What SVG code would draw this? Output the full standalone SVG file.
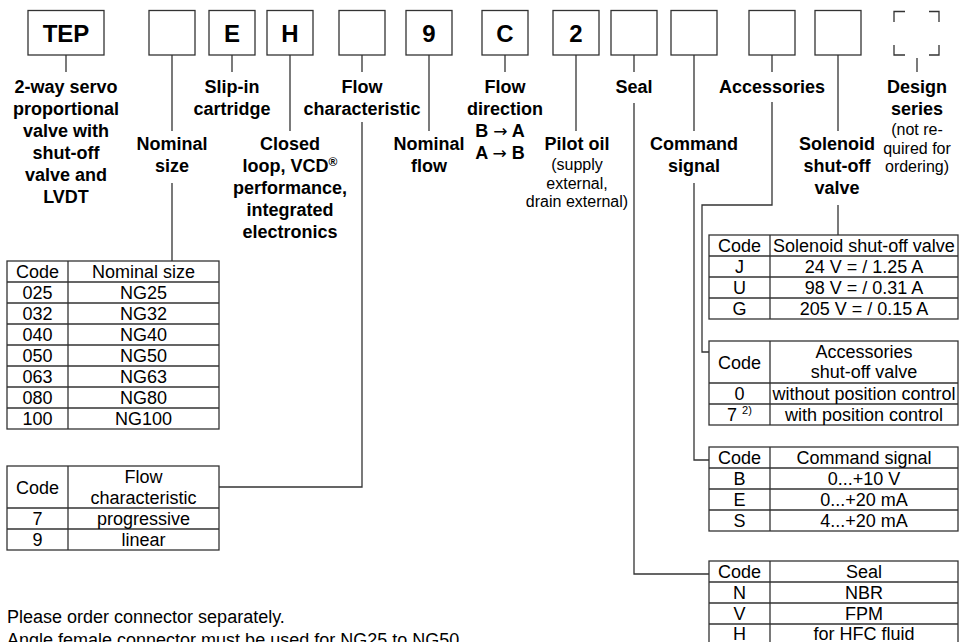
<svg xmlns="http://www.w3.org/2000/svg" width="960" height="642" viewBox="0 0 960 642">
<style>
text{font-family:"Liberation Sans",Arial,Helvetica,sans-serif;fill:#000}
.bx{font-size:24px;font-weight:bold;text-anchor:middle}
.bl{font-size:18px;font-weight:bold;text-anchor:middle}
.ar{font-family:"DejaVu Sans",sans-serif;font-weight:normal;font-size:17px}
.sm{font-size:16px;text-anchor:middle}
.t{font-size:18px;text-anchor:middle}
.nt{font-size:18px}
.box{fill:#fff;stroke:#333;stroke-width:1.3}
.tb{fill:none;stroke:#333;stroke-width:1.3}
.cn{fill:none;stroke:#333;stroke-width:1.3}
</style>
<rect width="960" height="642" fill="#fff"/>

<g id="connectors">
<path class="cn" d="M66 55V72"/>
<path class="cn" d="M172 55V131M172 183V261"/>
<path class="cn" d="M232 55V72"/>
<path class="cn" d="M290 55V131"/>
<path class="cn" d="M362 55V72M362 122V487H219"/>
<path class="cn" d="M429 55V131"/>
<path class="cn" d="M505 55V72"/>
<path class="cn" d="M576 55V131"/>
<path class="cn" d="M634 55V72M634 103V574H709"/>
<path class="cn" d="M694 55V131M694 183V460H709"/>
<path class="cn" d="M772 55V72M772 102V205H702V352H709"/>
<path class="cn" d="M838 55V131M838 205V235"/>
<path class="cn" d="M917 58V72"/>
</g>

<g id="box-tep"><rect class="box" x="28" y="10.5" width="76" height="44.5"/><text class="bx" x="66" y="41.5">TEP</text></g>
<g id="box-size"><rect class="box" x="149" y="10.5" width="46" height="44.5"/></g>
<g id="box-e"><rect class="box" x="209" y="10.5" width="46" height="44.5"/><text class="bx" x="232" y="41.5">E</text></g>
<g id="box-h"><rect class="box" x="267" y="10.5" width="46" height="44.5"/><text class="bx" x="290" y="41.5">H</text></g>
<g id="box-flowchar"><rect class="box" x="339" y="10.5" width="46" height="44.5"/></g>
<g id="box-9"><rect class="box" x="406" y="10.5" width="46" height="44.5"/><text class="bx" x="429" y="41.5">9</text></g>
<g id="box-c"><rect class="box" x="482" y="10.5" width="46" height="44.5"/><text class="bx" x="505" y="41.5">C</text></g>
<g id="box-2"><rect class="box" x="553" y="10.5" width="46" height="44.5"/><text class="bx" x="576" y="41.5">2</text></g>
<g id="box-seal"><rect class="box" x="611" y="10.5" width="46" height="44.5"/></g>
<g id="box-cmd"><rect class="box" x="671" y="10.5" width="46" height="44.5"/></g>
<g id="box-acc"><rect class="box" x="749" y="10.5" width="46" height="44.5"/></g>
<g id="box-sol"><rect class="box" x="815" y="10.5" width="46" height="44.5"/></g>
<g id="box-design"><path class="tb" d="M894 22V11.5H905M929 11.5H939V22M894 45V55H905M929 55H939V45"/></g>

<g id="label-tep">
<text class="bl" x="66" y="93">2-way servo</text>
<text class="bl" x="66" y="115">proportional</text>
<text class="bl" x="66" y="137">valve with</text>
<text class="bl" x="66" y="159">shut-off</text>
<text class="bl" x="66" y="181">valve and</text>
<text class="bl" x="66" y="203">LVDT</text>
</g>
<g id="label-size"><text class="bl" x="172" y="150">Nominal</text><text class="bl" x="172" y="172">size</text></g>
<g id="label-e"><text class="bl" x="232" y="93">Slip-in</text><text class="bl" x="232" y="115">cartridge</text></g>
<g id="label-h">
<text class="bl" x="290" y="150">Closed</text>
<text class="bl" x="290" y="172">loop, VCD<tspan font-size="12" dy="-6">®</tspan></text>
<text class="bl" x="290" y="194">performance,</text>
<text class="bl" x="290" y="216">integrated</text>
<text class="bl" x="290" y="238">electronics</text>
</g>
<g id="label-flowchar"><text class="bl" x="362" y="93">Flow</text><text class="bl" x="362" y="115">characteristic</text></g>
<g id="label-flow"><text class="bl" x="429" y="150">Nominal</text><text class="bl" x="429" y="172">flow</text></g>
<g id="label-dir">
<text class="bl" x="505" y="93">Flow</text>
<text class="bl" x="505" y="115">direction</text>
<text class="bl" x="500" y="137">B <tspan class="ar">→</tspan> A</text>
<text class="bl" x="500" y="159">A <tspan class="ar">→</tspan> B</text>
</g>
<g id="label-pilot">
<text class="bl" x="577" y="150">Pilot oil</text>
<text class="sm" x="577" y="170">(supply</text>
<text class="sm" x="577" y="188.5">external,</text>
<text class="sm" x="577" y="207">drain external)</text>
</g>
<g id="label-seal"><text class="bl" x="634" y="93">Seal</text></g>
<g id="label-cmd"><text class="bl" x="694" y="150">Command</text><text class="bl" x="694" y="172">signal</text></g>
<g id="label-acc"><text class="bl" x="772" y="93">Accessories</text></g>
<g id="label-sol"><text class="bl" x="837" y="150">Solenoid</text><text class="bl" x="837" y="172">shut-off</text><text class="bl" x="837" y="194">valve</text></g>
<g id="label-design">
<text class="bl" x="917" y="93">Design</text>
<text class="bl" x="917" y="115">series</text>
<text class="sm" x="917" y="135">(not re-</text>
<text class="sm" x="917" y="153.5">quired for</text>
<text class="sm" x="917" y="172">ordering)</text>
</g>

<g id="table-size">
<rect class="tb" x="7" y="261" width="212" height="168"/>
<path class="tb" d="M68 261V429M7 282H219M7 303H219M7 324H219M7 345H219M7 366H219M7 387H219M7 408H219"/>
<text class="t" x="37.5" y="278">Code</text><text class="t" x="143.5" y="278">Nominal size</text>
<text class="t" x="37.5" y="299">025</text><text class="t" x="143.5" y="299">NG25</text>
<text class="t" x="37.5" y="320">032</text><text class="t" x="143.5" y="320">NG32</text>
<text class="t" x="37.5" y="341">040</text><text class="t" x="143.5" y="341">NG40</text>
<text class="t" x="37.5" y="362">050</text><text class="t" x="143.5" y="362">NG50</text>
<text class="t" x="37.5" y="383">063</text><text class="t" x="143.5" y="383">NG63</text>
<text class="t" x="37.5" y="404">080</text><text class="t" x="143.5" y="404">NG80</text>
<text class="t" x="37.5" y="425">100</text><text class="t" x="143.5" y="425">NG100</text>
</g>

<g id="table-flowchar">
<rect class="tb" x="7" y="466" width="212" height="84"/>
<path class="tb" d="M68 466V550M7 508H219M7 529H219"/>
<text class="t" x="37.5" y="494">Code</text>
<text class="t" x="143.5" y="483">Flow</text><text class="t" x="143.5" y="504">characteristic</text>
<text class="t" x="37.5" y="525">7</text><text class="t" x="143.5" y="525">progressive</text>
<text class="t" x="37.5" y="546">9</text><text class="t" x="143.5" y="546">linear</text>
</g>

<g id="table-sol">
<rect class="tb" x="709" y="235" width="249" height="84"/>
<path class="tb" d="M770 235V319M709 256H958M709 277H958M709 298H958"/>
<text class="t" x="739.5" y="252">Code</text><text class="t" x="864" y="252">Solenoid shut-off valve</text>
<text class="t" x="739.5" y="273">J</text><text class="t" x="864" y="273">24 V = / 1.25 A</text>
<text class="t" x="739.5" y="294">U</text><text class="t" x="864" y="294">98 V = / 0.31 A</text>
<text class="t" x="739.5" y="315">G</text><text class="t" x="864" y="315">205 V = / 0.15 A</text>
</g>

<g id="table-acc">
<rect class="tb" x="709" y="341" width="249" height="84"/>
<path class="tb" d="M770 341V425M709 383H958M709 404H958"/>
<text class="t" x="739.5" y="368.5">Code</text>
<text class="t" x="864" y="358">Accessories</text><text class="t" x="864" y="378">shut-off valve</text>
<text class="t" x="739.5" y="400">0</text><text class="t" x="864" y="400">without position control</text>
<text class="t" x="739.5" y="421">7 <tspan font-size="11" dy="-7">2)</tspan></text><text class="t" x="864" y="421">with position control</text>
</g>

<g id="table-cmd">
<rect class="tb" x="709" y="447" width="249" height="84"/>
<path class="tb" d="M770 447V531M709 468H958M709 489H958M709 510H958"/>
<text class="t" x="739.5" y="464">Code</text><text class="t" x="864" y="464">Command signal</text>
<text class="t" x="739.5" y="485">B</text><text class="t" x="864" y="485">0...+10 V</text>
<text class="t" x="739.5" y="506">E</text><text class="t" x="864" y="506">0...+20 mA</text>
<text class="t" x="739.5" y="527">S</text><text class="t" x="864" y="527">4...+20 mA</text>
</g>

<g id="table-seal">
<rect class="tb" x="709" y="561" width="249" height="84"/>
<path class="tb" d="M770 561V645M709 582H958M709 603H958M709 624H958"/>
<text class="t" x="739.5" y="578">Code</text><text class="t" x="864" y="578">Seal</text>
<text class="t" x="739.5" y="599">N</text><text class="t" x="864" y="599">NBR</text>
<text class="t" x="739.5" y="620">V</text><text class="t" x="864" y="620">FPM</text>
<text class="t" x="739.5" y="640">H</text><text class="t" x="864" y="640">for HFC fluid</text>
</g>

<g id="note">
<text class="nt" x="7" y="623">Please order connector separately.</text>
<text class="nt" x="7" y="646">Angle female connector must be used for NG25 to NG50.</text>
</g>
</svg>
